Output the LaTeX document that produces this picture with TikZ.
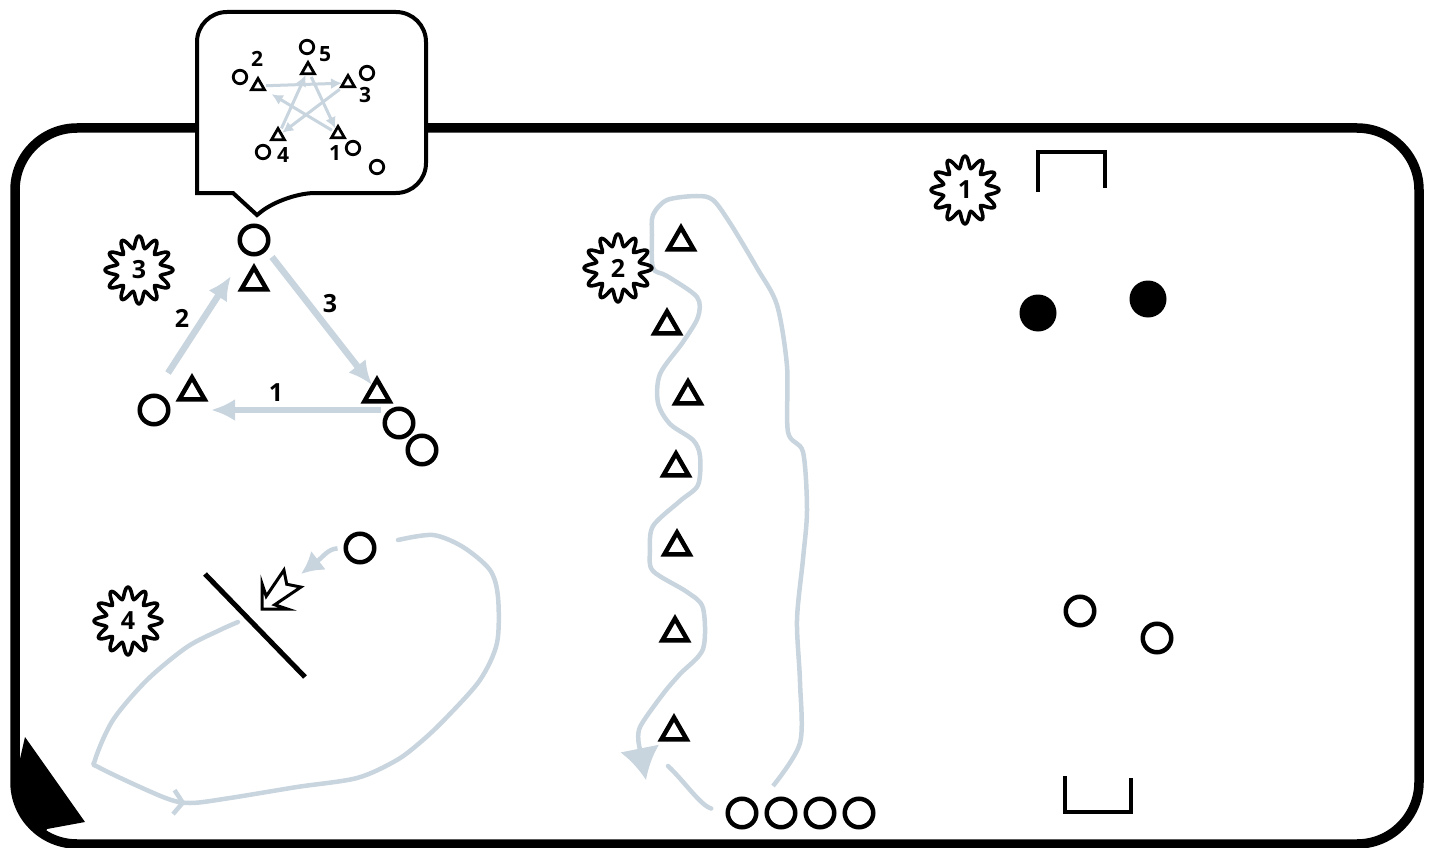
\documentclass[tikz,border=0pt]{standalone}
\usepackage{fontspec}
\setmainfont{Open Sans}
\usetikzlibrary{arrows.meta,shapes.geometric,decorations.markings}

\definecolor{runcol}{RGB}{200,212,222}

\begin{document}
\begin{tikzpicture}[x=1pt,y=-1pt,
    ring/.style={circle,draw,line width=4.5pt,minimum size=28.5pt,inner sep=0pt},
    cone/.style={regular polygon,regular polygon sides=3,draw,line width=4.5pt,minimum size=29pt,inner sep=0pt},
    minring/.style={circle,draw,line width=2.8pt,minimum size=13.5pt,inner sep=0pt},
    mincone/.style={regular polygon,regular polygon sides=3,draw,line width=2.8pt,minimum size=15pt,inner sep=0pt},
    ball/.style={circle,fill,minimum size=37pt,inner sep=0pt},
    num/.style={font=\fontsize{25}{25}\selectfont\bfseries,inner sep=0pt},
    minnum/.style={font=\fontsize{21}{21}\selectfont\bfseries,inner sep=0pt},
    pass/.style={draw=runcol,line width=6.5pt,-{Latex[length=24pt,width=22pt]}},
    minpass/.style={draw=runcol,line width=3pt,-{Latex[length=11pt,width=11pt]},shorten <=2pt},
    run/.style={draw=runcol,line width=4.5pt,line cap=round,line join=round},
    runtip/.style={draw=runcol,line width=4.5pt},
    goal/.style={line width=4.5pt},
    badge/.pic={
      \draw[line width=3.6pt,fill=white,line join=round]
        plot[smooth cycle,samples=96,domain=0:356.25] (\x:{28+6*cos(12*\x)});
      \node[num] (-n) {#1};
    }]
    \useasboundingbox (0,0) rectangle (1430,848);

    % field
    \draw[line width=9.5pt,rounded corners=62pt] (15,128) rectangle (1419,844);
    \begin{scope}
      \clip[rounded corners=62pt] (15,128) rectangle (1419,844);
      \fill (25,737) -- (85,822) -- (47,829) -- (30,870) -- (0,870) -- (0,790) -- (17,772) -- cycle;
    \end{scope}

    % bubble with the star pattern
    \draw[line width=4pt,fill=white] (310,12) [rounded corners=30pt] -- (426,12) -- (426,193) -- (285,193)
      [sharp corners] -- (257,215) -- (233,193) -- (197,193) [rounded corners=30pt] -- (197,12) -- cycle;

    \node[minring]  (m2) at (240,77)  {};
    \node[mincone]  (n2) at (258,86)  {};
    \node[minnum]   (l2) at (257,59)  {2};
    \node[minring]  (m5) at (307,47)  {};
    \node[mincone]  (n5) at (308,70)  {};
    \node[minnum]   (l5) at (325,54)  {5};
    \node[mincone]  (n3) at (348,83)  {};
    \node[minring]  (m3) at (367,73)  {};
    \node[minnum]   (l3) at (365,95)  {3};
    \node[mincone]  (n4) at (278,136) {};
    \node[minring]  (m4) at (263,152) {};
    \node[minnum]   (l4) at (283,155) {4};
    \node[mincone]  (n1) at (338,134) {};
    \node[minnum]   (l1) at (335,153) {1};
    \node[minring]  (m1) at (353,148) {};
    \node[minring]  (m6) at (377,167) {};

    \draw[minpass] (n2) -- (n3);
    \draw[minpass] (n5) -- (n1);
    \draw[minpass] (n3) -- (n4);
    \draw[minpass] (n4) -- (n5);
    \draw[minpass,shorten >=6pt] (n1) -- (n2);

    % drill 3
    \pic (b3) at (139,270) {badge=3};
    \node[ring] (c3t) at (254,240) {};
    \node[cone] (t3t) at (254,282) {};
    \node[ring] (c3l) at (154,410) {};
    \node[cone] (t3l) at (192,392) {};
    \node[cone] (t3r) at (377,394) {};
    \node[ring] (c3r) at (399,423) {};
    \node[ring] (c3s) at (422,450) {};

    \coordinate (a2s) at (168,373);
    \coordinate (a2e) at (231,276);
    \coordinate (a3s) at (272,257);
    \coordinate (a3e) at (372,385);
    \coordinate (a1s) at (381,410);
    \coordinate (a1e) at (211,410);
    \draw[pass] (a2s) -- (a2e);
    \draw[pass] (a3s) -- (a3e);
    \draw[pass] (a1s) -- (a1e);
    \node[num] (p2) at (182,318) {2};
    \node[num] (p3) at (330,304) {3};
    \node[num] (p1) at (276,393) {1};

    % drill 4
    \draw[run,postaction={decorate},decoration={markings,
        mark=at position 0.36 with {\arrow[line cap=butt,line join=miter]{Straight Barb[length=9pt,width=24pt]}}}]
      plot[smooth] coordinates {(238,622) (220,630) (187,647) (147,680) (113,720) (95,760) (100,768)
        (163,797) (190,803) (230,798) (297,787) (357,778) (397,760) (423,740) (447,717) (480,680)
        (497,643) (498,597) (490,570) (463,547) (433,535) (398,540)};
    \pic (b4) at (128,621) {badge=4};
    \draw[line width=5pt] (205,574) -- (305,677);
    \node[ring] (c4) at (360,548) {};
    \coordinate (k4) at (301,574);
    \draw[runtip,shorten <=6pt,-{Latex[length=22pt,width=24pt]}] (c4.west) .. controls (328,549) and (324,556) .. (k4);
    \begin{scope}[shift={(262,609)},x={(0.707pt,0.707pt)},y={(0.707pt,-0.707pt)}]
      \draw[line width=3pt,fill=white] (0,0) -- (18,18) -- (12,6) -- (43,12) -- (35,0) -- (43,-12) -- (12,-6) -- (18,-18) -- cycle;
    \end{scope}

    % drill 2
    \foreach \n/\x/\y in {a/681/242,b/667/326,c/688/396,d/676/468,e/677/547,f/675/633,g/674/732}
      \node[cone] (t2\n) at (\x,\y) {};
    \foreach \n/\x in {a/742,b/781,c/820,d/859}
      \node[ring] (c2\n) at (\x,813) {};
    \draw[runtip,-{Latex[length=32pt,width=40pt]}]
      plot[smooth] coordinates {(773,786) (800,743) (800,682)
      (797,620) (803,559) (807,510) (803,452) (788,432) (787,366) (777,305) (757,268) (730,223)
      (713,200) (697,196) (667,200) (653,215) (652,235) (653,268) (667,276) (697,297) (698,317)
      (683,342) (660,374) (658,403) (670,424) (693,440) (700,456) (698,485) (680,501) (653,526)
      (650,551) (653,571) (687,592) (703,608) (703,649) (680,674) (663,694) (640,727) (639,745)}
      -- (646,780);
    \coordinate (j2) at (668,766);
    \draw[run,shorten <=15pt] (c2a.west) .. controls (700,805) and (685,782) .. (j2);
    \pic (b2) at (618,268) {badge=2};

    % drill 1
    \pic (b1) at (965,190) {badge=1};
    \draw[goal] (1038,192) |- (1105,152) -- (1105,188);
    \node[ball] (k1)  at (1038,313) {};
    \node[ball] (k2)  at (1148,299) {};
    \node[ring] (c1a) at (1080,611) {};
    \node[ring] (c1b) at (1157,638) {};
    \draw[goal] (1065,776) |- (1131,812) -- (1131,778);
\end{tikzpicture}
\end{document}
